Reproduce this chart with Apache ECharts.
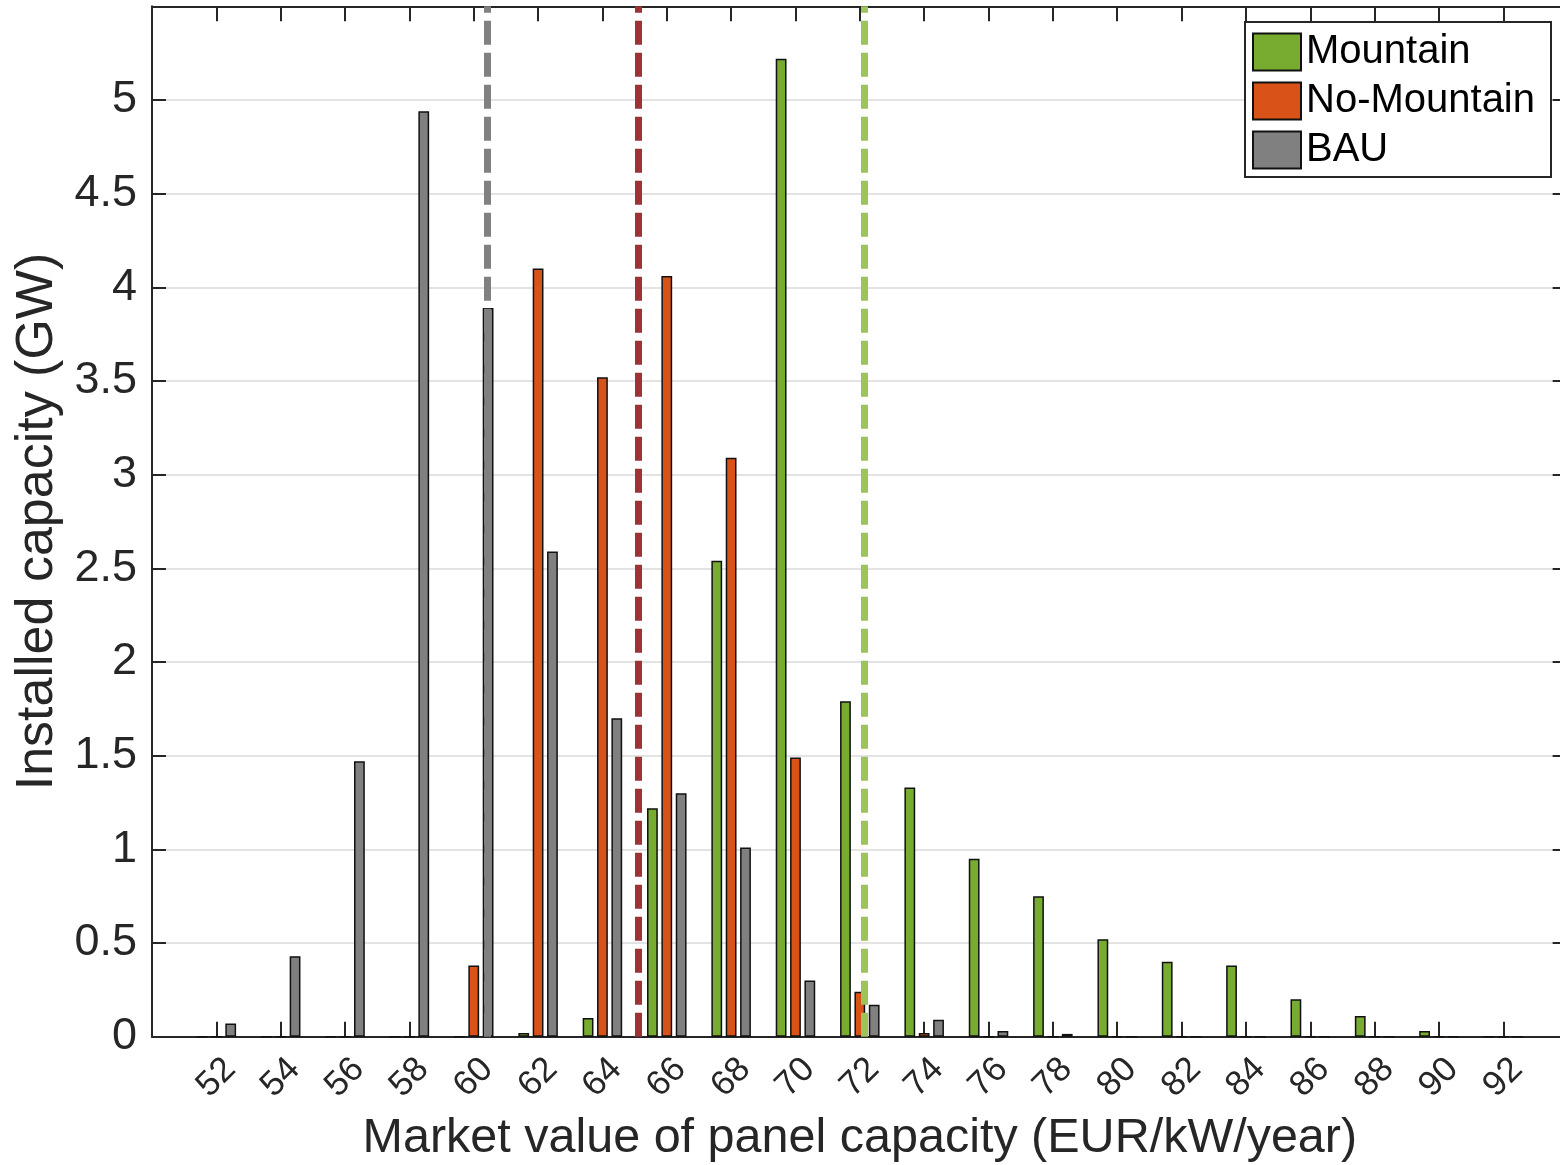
<!DOCTYPE html>
<html>
<head>
<meta charset="utf-8">
<script src="https://cdn.jsdelivr.net/npm/echarts@6/dist/echarts.min.js"></script>
<style>
html,body{margin:0;padding:0;background:#fff;}
#chart{width:1560px;height:1165px;}
</style>
</head>
<body>
<div id="chart"></div>
<script>
// Bin centres (EUR/kW/year)
const categories = [52,54,56,58,60,62,64,66,68,70,72,74,76,78,80,82,84,86,88,90,92];
// Installed capacity (GW)
const mountain   = [0,0,0,0,0,0.02,0.10,1.22,2.54,5.22,1.79,1.33,0.95,0.75,0.52,0.40,0.38,0.20,0.11,0.03,0];
const noMountain = [0,0,0,0,0.38,4.10,3.52,4.06,3.09,1.49,0.24,0.02,0,0,0,0,0,0,0,0,0];
const bau        = [0.07,0.43,1.47,4.94,3.89,2.59,1.70,1.30,1.01,0.30,0.17,0.09,0.03,0.015,0,0,0,0,0,0,0];
// Mean market values (dashed lines)
const meanBAU = 60.42;
const meanNoMountain = 65.11;
const meanMountain = 72.13;
const seriesNames = ['Mountain','No-Mountain','BAU'];
const yTicks = [0,0.5,1,1.5,2,2.5,3,3.5,4,4.5,5];

const FONT = '"Liberation Sans", Arial, Helvetica, sans-serif';
const AX = '#262626';

function pairs(vals){ return categories.map((c,i)=>[c, vals[i]]); }

function meanItem(x, color){
  return {xAxis: x, lineStyle: {color: color, width: 7, type: [24, 8]}};
}

const barCommon = {
  type: 'bar',
  barWidth: 10.8,
  barGap: '33%',
  xAxisIndex: 0,
  yAxisIndex: 0,
  animation: false
};

const chart = echarts.init(document.getElementById('chart'), null, {renderer:'canvas'});
chart.setOption({
  backgroundColor: '#ffffff',
  textStyle: {fontFamily: FONT},
  grid: {left: 152, top: 6.3, right: -7.65, bottom: 128.3, containLabel: false, outerBoundsMode: 'none'},
  legend: {
    orient: 'vertical',
    left: 1245,
    top: 22,
    padding: [10, 16, 7, 7],
    itemWidth: 48,
    itemHeight: 37,
    itemGap: 9,
    icon: 'rect',
    backgroundColor: '#ffffff',
    borderColor: AX,
    borderWidth: 2,
    borderRadius: 0,
    textStyle: {fontSize: 40, color: '#000', fontFamily: FONT, lineHeight: 37},
    data: seriesNames
  },
  xAxis: [
    {
      type: 'value', position: 'bottom', min: 50, max: 94, interval: 2,
      name: 'Market value of panel capacity (EUR/kW/year)',
      nameLocation: 'middle', nameGap: 77,
      nameTextStyle: {fontSize: 48.5, color: AX, fontFamily: FONT},
      axisLine: {show: true, onZero: false, lineStyle: {color: AX, width: 2}},
      axisTick: {show: true, inside: true, length: 15, lineStyle: {color: AX, width: 2}},
      axisLabel: {show: true, rotate: 45, fontSize: 35, color: AX, fontFamily: FONT,
        align: 'center', verticalAlign: 'middle', margin: 41,
        showMinLabel: false, showMaxLabel: false,
        formatter: v => (categories.indexOf(v) >= 0 ? String(v) : '')},
      splitLine: {show: false}
    },
    {
      type: 'value', position: 'top', min: 50, max: 94, interval: 2,
      axisLine: {show: true, onZero: false, lineStyle: {color: AX, width: 2}},
      axisTick: {show: true, inside: true, length: 15, lineStyle: {color: AX, width: 2}},
      axisLabel: {show: false},
      splitLine: {show: false}
    }
  ],
  yAxis: [
    {
      type: 'value', position: 'left', min: 0, max: 5.5, interval: 0.5,
      name: 'Installed capacity (GW)',
      nameLocation: 'middle', nameRotate: 90, nameGap: 82,
      nameTextStyle: {fontSize: 52, color: AX, fontFamily: FONT},
      axisLine: {show: true, onZero: false, lineStyle: {color: AX, width: 2}},
      axisTick: {show: true, inside: true, length: 14, lineStyle: {color: AX, width: 2}},
      axisLabel: {show: true, fontSize: 45, color: AX, fontFamily: FONT, margin: 15,
        showMaxLabel: false,
        formatter: v => (yTicks.indexOf(v) >= 0 ? String(v) : '')},
      splitLine: {show: true, lineStyle: {color: '#E3E3E3', width: 2}}
    },
    {
      type: 'value', position: 'right', min: 0, max: 5.5, interval: 0.5,
      axisLine: {show: true, onZero: false, lineStyle: {color: AX, width: 2}},
      axisTick: {show: true, inside: true, length: 15, lineStyle: {color: AX, width: 2}},
      axisLabel: {show: false},
      splitLine: {show: false}
    }
  ],
  series: [
    Object.assign({}, barCommon, {
      name: seriesNames[0], data: pairs(mountain),
      itemStyle: {color: '#77AC30', borderColor: '#111', borderWidth: 1.5}
    }),
    Object.assign({}, barCommon, {
      name: seriesNames[1], data: pairs(noMountain),
      itemStyle: {color: '#D95319', borderColor: '#111', borderWidth: 1.5},
      // centre series (zero bar offset) carries all three mean lines
      markLine: {
        silent: true,
        symbol: ['none','none'],
        label: {show: false},
        animation: false,
        emphasis: {disabled: true},
        data: [
          meanItem(meanBAU, '#808080'),
          meanItem(meanNoMountain, '#9E3236'),
          meanItem(meanMountain, '#9DC35A')
        ]
      }
    }),
    Object.assign({}, barCommon, {
      name: seriesNames[2], data: pairs(bau),
      itemStyle: {color: '#808080', borderColor: '#111', borderWidth: 1.5}
    })
  ]
});
</script>
</body>
</html>
